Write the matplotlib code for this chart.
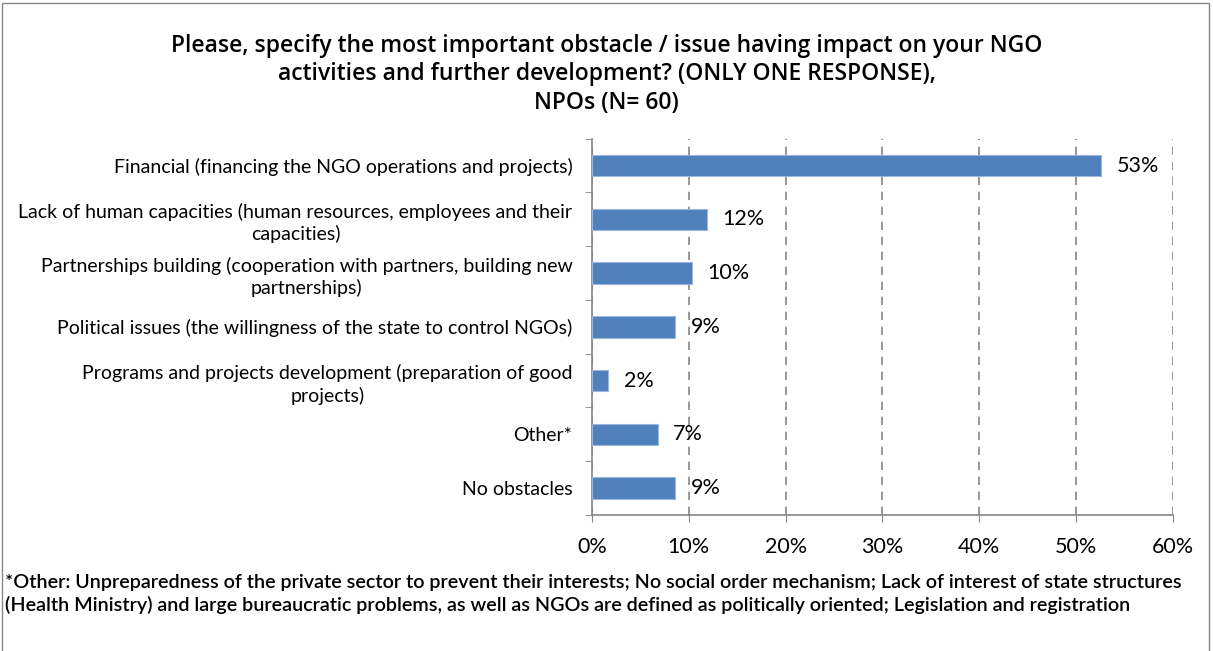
import numpy as np
import matplotlib.pyplot as plt
from matplotlib.patches import Rectangle
from matplotlib.ticker import FixedLocator

plt.rcParams['font.family'] = ['Lato', 'DejaVu Sans']

# Obstacles (top to bottom) and share of answers, %
categories = [
    "Financial (financing the NGO operations and projects)",
    "Lack of human capacities (human resources, employees and their\ncapacities)",
    "Partnerships building (cooperation with partners, building new\npartnerships)",
    "Political issues (the willingness of the state to control NGOs)",
    "Programs and projects development (preparation of good\nprojects)",
    "Other*",
    "No obstacles",
]
values = [52.6, 11.9, 10.3, 8.6, 1.7, 6.8, 8.6]
x_ticks = [0, 10, 20, 30, 40, 50, 60]

title = ("Please, specify the most important obstacle / issue having impact on your NGO\n"
         "activities and further development? (ONLY ONE RESPONSE),\n"
         "NPOs (N= 60)")
footnote = ("*Other: Unpreparedness of the private sector to prevent their interests; No social order mechanism; "
            "Lack of interest of state structures\n(Health Ministry) and large bureaucratic problems, as well as "
            "NGOs are defined as politically oriented; Legislation and registration")

axis_grey = '#868686'

fig = plt.figure(figsize=(12.13, 6.51), dpi=100)
ax = fig.add_axes([0.488, 0.209, 0.479, 0.578])

y = np.arange(len(categories))
ax.barh(y, values, height=0.4, color='#4F81BD', edgecolor='#9DB7DC', linewidth=0.8, zorder=3)
for yi, v in zip(y, values):
    ax.annotate(f"{v:.0f}%", (v, yi), xytext=(11, 0), textcoords='offset points',
                va='center', ha='left', fontsize=15.5, color='black')

ax.set_ylim(len(categories) - 0.5, -0.5)
ax.set_xlim(0, 60)
ax.set_yticks(y)
ax.set_yticklabels(categories, fontsize=14, multialignment='center', linespacing=1.3)
ax.yaxis.set_minor_locator(FixedLocator(np.arange(-0.5, len(categories), 1.0)))
ax.tick_params(axis='y', which='major', length=0, pad=14)
ax.tick_params(axis='y', which='minor', length=5, color=axis_grey, direction='out')

ax.set_xticks(x_ticks)
ax.set_xticklabels([f"{t}%" for t in x_ticks], fontsize=15.5)
ax.tick_params(axis='x', length=5, color=axis_grey, direction='out', pad=11)
ax.xaxis.grid(True, linestyle=(0, (5, 4)), color=axis_grey, linewidth=1.2, zorder=0)

for side in ['top', 'right']:
    ax.spines[side].set_visible(False)
for side in ['left', 'bottom']:
    ax.spines[side].set_color(axis_grey)
    ax.spines[side].set_linewidth(1.2)

fig.text(0.5, 0.948, title, ha='center', va='top', fontsize=16.5, fontweight='semibold',
         family=['Open Sans', 'DejaVu Sans'], linespacing=1.25)
fig.text(0.004, 0.118, footnote, ha='left', va='top', fontsize=14.2, fontweight='semibold',
         linespacing=1.33)

# thin frame round the whole chart area
fig.patches.append(Rectangle((0.002, -0.01), 0.995, 1.005, transform=fig.transFigure,
                             fill=False, edgecolor=axis_grey, linewidth=1.0))

fig.savefig('out.png', dpi=100)
